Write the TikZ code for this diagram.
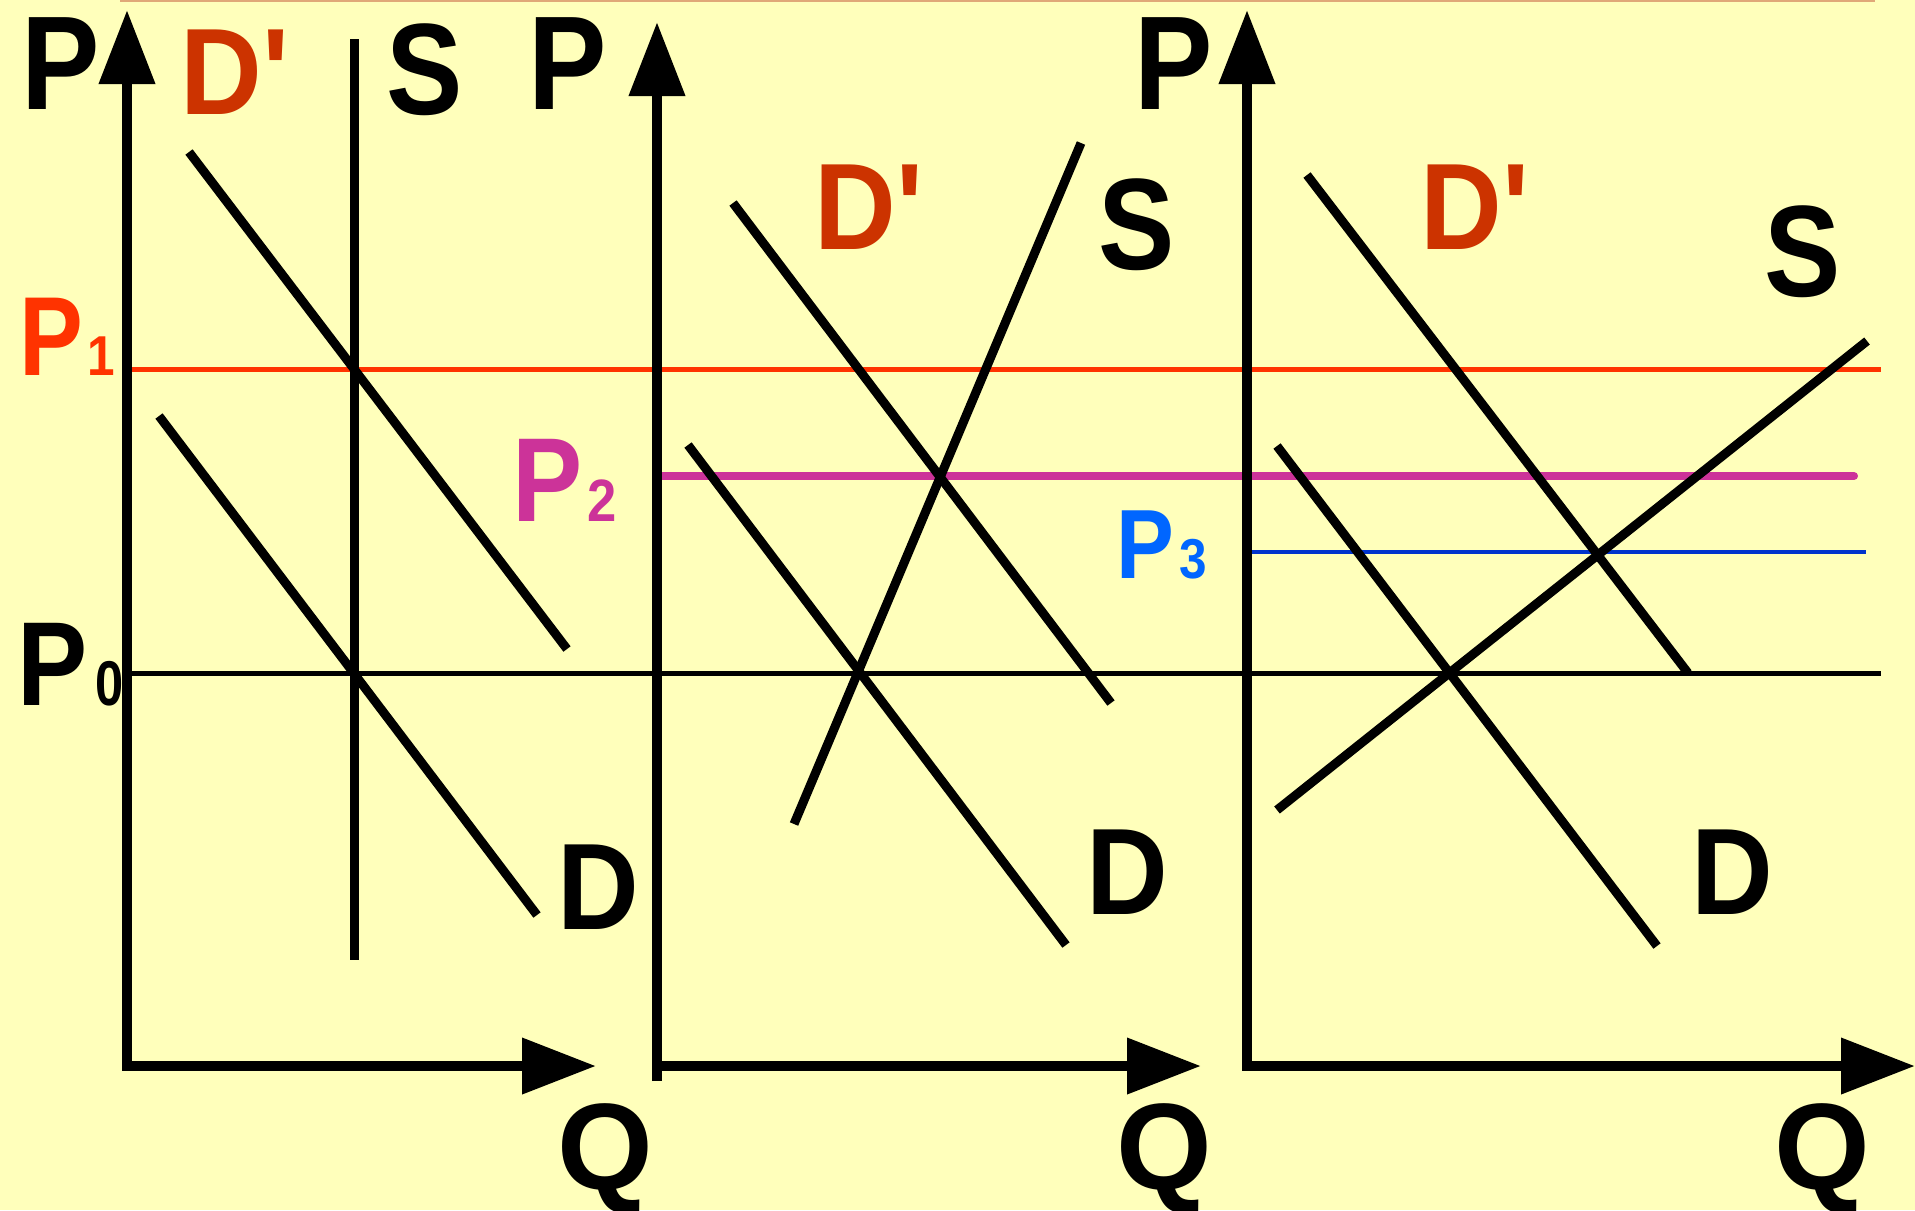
\documentclass[tikz,border=0pt]{standalone}
\usepackage{fontspec}
\setmainfont{Liberation Sans}
\usetikzlibrary{arrows.meta}
\definecolor{paper}{HTML}{FFFFBB}
\definecolor{rim}{HTML}{E0A878}
\definecolor{dshift}{HTML}{CC3300}
\definecolor{pone}{HTML}{FF3300}
\definecolor{ptwo}{HTML}{CC3399}
\definecolor{pthree}{HTML}{0066FF}
\definecolor{pthreeline}{HTML}{0033CC}
\newcommand{\narrow}[2][0.88]{\scalebox{#1}[1]{#2}}
\newcommand{\dprime}{D\textquotesingle}
\tikzset{
  axis/.style={line width=1.05mm, -{Triangle[length=7.4mm,width=5.4mm]}},
  curve/.style={line width=0.9mm},
  lbl/.style={inner sep=0pt, anchor=base, font=\fontsize{35}{40}\selectfont\bfseries},
  big/.style={lbl, font=\fontsize{38}{42}\selectfont\bfseries},
  sub/.style={inner sep=0pt, anchor=base, font=\fontsize{16}{18}\selectfont\bfseries},
}
\begin{document}
\begin{tikzpicture}[x=0.1mm,y=-0.1mm]
\useasboundingbox (0,0) rectangle (1915,1210);
\fill[paper] (0,0) rectangle (1915,1210);
\draw[rim,line width=0.2mm] (120,1) -- (1875,1);

% axes
\coordinate (OA) at (127,1066);
\coordinate (YA) at (127,10);
\coordinate (XA) at (596,1066);
\coordinate (OB) at (657,1081);
\coordinate (YB) at (657,22);
\coordinate (QB) at (657,1066);
\coordinate (XB) at (1201,1066);
\coordinate (OC) at (1247,1066);
\coordinate (YC) at (1247,10);
\coordinate (XC) at (1915,1066);

% price levels
\coordinate (P1L) at (127,369);
\coordinate (P1R) at (1881,369);
\coordinate (P0L) at (127,673);
\coordinate (P0R) at (1881,673);
\coordinate (P2L) at (657,476);
\coordinate (P2R) at (1854,476);
\coordinate (P3L) at (1247,552);
\coordinate (P3R) at (1866,552);

\draw[pone,line width=0.5mm] (P1L) -- (P1R);
\draw[line width=0.5mm] (P0L) -- (P0R);
\draw[ptwo,line width=0.8mm,line cap=round] (P2L) -- (P2R);
\draw[pthreeline,line width=0.37mm] (P3L) -- (P3R);

\draw[axis] (OA) -- (YA);
\draw[axis] ([xshift=-0.5mm]OA) -- (XA);
\draw[axis] (OB) -- (YB);
\draw[axis] (QB) -- (XB);
\draw[axis] (OC) -- (YC);
\draw[axis] ([xshift=-0.5mm]OC) -- (XC);

% first panel
\coordinate (S1a) at (354,39);
\coordinate (S1b) at (354,960);
\coordinate (Dd1a) at (189,152);
\coordinate (Dd1b) at (567,649);
\coordinate (D1a) at (159,416);
\coordinate (D1b) at (537,915);
\draw[curve] (S1a) -- (S1b);
\draw[curve] (Dd1a) -- (Dd1b);
\draw[curve] (D1a) -- (D1b);

% second panel
\coordinate (S2a) at (794,824);
\coordinate (S2b) at (1081,143);
\coordinate (Dd2a) at (733,203);
\coordinate (Dd2b) at (1111,703);
\coordinate (D2a) at (688,445);
\coordinate (D2b) at (1066,945);
\draw[curve] (S2a) -- (S2b);
\draw[curve] (Dd2a) -- (Dd2b);
\draw[curve] (D2a) -- (D2b);

% third panel
\coordinate (S3a) at (1277,810);
\coordinate (S3b) at (1867,341);
\coordinate (Dd3a) at (1307,175);
\coordinate (Dd3b) at (1688,673);
\coordinate (D3a) at (1277,446);
\coordinate (D3b) at (1657,946);
\draw[curve] (S3a) -- (S3b);
\draw[curve] (Dd3a) -- (Dd3b);
\draw[curve] (D3a) -- (D3b);

% labels
\node[big] (pA) at (61,109) {\narrow{P}};
\node[big] (pB) at (568,109) {\narrow{P}};
\node[big] (pC) at (1174,109) {\narrow{P}};
\node[lbl,dshift] (ddA) at (235,114) {\narrow[0.92]{\dprime}};
\node[lbl,dshift] (ddB) at (869,249) {\narrow[0.92]{\dprime}};
\node[lbl,dshift] (ddC) at (1475,249) {\narrow[0.92]{\dprime}};
\node[big,font=\fontsize{37}{42}\selectfont\bfseries] (sA) at (425,114) {\narrow{S}};
\node[big,font=\fontsize{37}{42}\selectfont\bfseries] (sB) at (1137,269) {\narrow{S}};
\node[big,font=\fontsize{37}{42}\selectfont\bfseries] (sC) at (1803,296) {\narrow{S}};
\node[lbl] (dA) at (598,929) {\narrow[0.92]{D}};
\node[lbl] (dB) at (1127,914) {\narrow[0.92]{D}};
\node[lbl] (dC) at (1732,914) {\narrow[0.92]{D}};
\node[lbl] (qA) at (605,1189) {Q};
\node[lbl] (qB) at (1164,1189) {Q};
\node[lbl] (qC) at (1822,1189) {Q};

\node[lbl,pone,font=\fontsize{32}{36}\selectfont\bfseries] (pOne) at (51,375) {\narrow[0.85]{P}};
\node[sub,pone] (pOneSub) at (101,375) {\narrow{1}};
\node[lbl,font=\fontsize{34}{38}\selectfont\bfseries] (pZero) at (53,705) {\narrow{P}};
\node[sub,font=\fontsize{18}{20}\selectfont\bfseries] (pZeroSub) at (110,705) {\narrow[0.8]{0}};
\node[lbl,ptwo,font=\fontsize{34}{38}\selectfont\bfseries] (pTwo) at (548,521) {\narrow{P}};
\node[sub,ptwo,font=\fontsize{17}{19}\selectfont\bfseries] (pTwoSub) at (602,521) {\narrow{2}};
\node[lbl,pthree,font=\fontsize{28}{32}\selectfont\bfseries] (pThree) at (1145,578) {\narrow{P}};
\node[sub,pthree] (pThreeSub) at (1193,578) {\narrow{3}};
\end{tikzpicture}
\end{document}
